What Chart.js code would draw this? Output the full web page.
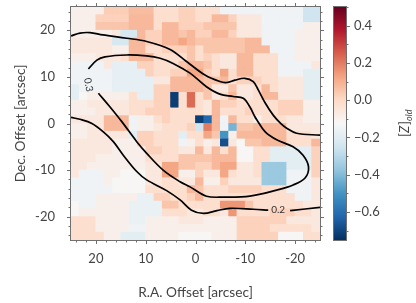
<!DOCTYPE html>
<html>
<head>
<meta charset="utf-8">
<script src="https://cdn.jsdelivr.net/npm/chart.js@4"></script>
<style>
  body { margin: 0; background: #fff; }
  canvas { position: absolute; left: 0; top: 0; }
</style>
</head>
<body>
<canvas id="myChart" width="416" height="303"></canvas>
<canvas id="myBar" width="416" height="303"></canvas>
<script>
// metallicity map, top row first, left column = +25 arcsec
const row00 = [-.09,-.09,-.09,-.09,.03,.03,.03,.07,.07,.07,-.02,-.02,-.02,.02,.02,-.02,-.02,-.02,-.15,-.15,-.15,-.15,-.15,-.15,-.15,-.15,-.15,-.15,-.25,-.25];
const row01 = [-.09,-.09,-.09,.02,.02,.02,.02,.08,.08,.08,-.02,-.02,-.02,.02,.02,-.02,-.02,.08,.08,.02,-.06,-.06,-.06,-.15,-.15,-.15,-.15,-.15,-.25,-.25];
const row02 = [-.09,-.09,-.09,.05,.05,.05,.05,.08,.08,.08,-.02,.08,.08,.02,.02,.02,.05,.05,.05,.05,-.06,-.06,-.06,-.15,-.15,-.15,-.15,-.15,-.09,-.09];
const row03 = [-.09,-.09,-.09,-.09,-.09,-.06,-.23,-.23,.08,.02,.02,.08,.08,.05,.08,.02,.02,.08,.08,.02,-.06,-.06,-.06,-.15,-.15,-.15,-.15,-.09,-.09,-.09];
const row04 = [-.06,-.06,-.06,-.06,-.06,-.23,-.23,.08,.08,.02,.02,.08,.08,.12,.08,.05,.05,.05,.05,.05,.05,.08,.08,-.15,-.15,-.15,-.15,-.09,-.09,-.09];
const row05 = [-.06,-.06,-.06,-.06,-.06,-.09,-.09,.08,.08,-.02,-.02,.02,.02,.02,.05,-.02,.05,.05,.05,.05,.05,.08,.08,.08,-.15,-.15,-.15,-.09,-.09,-.09];
const row06 = [-.09,-.09,-.09,-.06,-.06,-.06,-.02,.08,.08,.08,-.02,-.02,-.02,-.02,.05,-.02,.02,-.02,-.06,-.06,.08,.08,-.02,-.02,-.02,-.15,-.15,-.09,-.09,-.09];
const row07 = [-.15,-.15,-.15,-.15,-.06,-.18,-.18,-.18,.02,.02,-.02,-.02,-.02,.05,.08,.08,.05,-.02,-.06,-.06,.08,.08,-.02,-.02,-.02,-.15,-.15,-.15,-.15,-.06];
const row08 = [-.15,-.15,-.15,-.15,-.15,-.18,-.18,-.18,-.18,.02,-.02,-.02,.02,.02,.12,.12,.02,-.02,.12,-.02,.08,.08,-.02,-.02,-.02,-.15,-.15,-.15,-.19,-.19];
const row09 = [-.15,-.15,-.15,-.15,-.15,-.18,-.18,-.18,-.18,-.18,-.06,-.06,.08,.08,.08,.08,.05,.05,.08,-.02,.02,.02,.02,-.02,-.02,-.06,-.06,-.06,-.19,-.19];
const row10 = [-.19,-.15,-.15,-.15,-.15,-.18,-.18,-.18,-.18,-.18,.02,.02,.08,.08,.08,.08,.05,-.06,-.06,.05,-.06,-.06,-.02,.08,-.02,-.06,-.06,-.06,-.19,-.19];
const row11 = [-.19,-.12,-.09,-.09,-.09,-.09,-.09,-.02,-.18,-.18,.02,.02,-.72,-.02,.23,-.02,.05,-.06,-.02,.08,-.06,-.06,-.02,.08,.08,-.06,-.06,-.06,-.19,-.19];
const row12 = [-.09,-.09,-.06,-.06,-.06,-.06,-.06,-.02,-.02,-.02,.02,.02,-.72,-.02,.23,-.02,-.06,.08,.02,.02,-.02,-.02,-.02,-.02,-.02,.02,.02,.02,-.09,-.09];
const row13 = [-.09,-.09,-.09,-.06,-.06,-.06,-.06,-.02,-.02,.02,.02,.02,-.02,-.02,-.02,-.02,-.06,.08,-.02,-.02,-.02,.02,-.02,-.02,-.02,.02,.02,.02,-.09,-.09];
const row14 = [-.06,-.06,-.06,-.06,.08,.08,.08,-.15,-.09,-.09,-.02,.02,-.02,-.02,-.02,-.72,-.62,.08,-.15,.08,-.02,-.02,-.09,-.02,-.02,-.02,-.06,-.06,-.09,-.09];
const row15 = [-.09,-.09,-.06,-.06,.08,.08,.08,-.15,-.09,-.09,-.06,-.02,-.02,-.02,.02,-.25,.2,.08,-.15,-.42,.05,.05,.08,.08,.08,.08,-.06,-.06,-.06,-.06];
const row16 = [-.09,-.09,-.06,-.06,-.06,-.06,-.06,-.19,.02,.02,-.02,-.02,-.02,-.19,-.02,-.02,.12,.05,-.5,-.09,.08,.08,.08,.08,.08,.08,-.02,-.02,-.02,-.06];
const row17 = [-.06,-.06,-.06,-.06,-.06,-.09,-.09,-.09,.02,.02,-.02,-.02,-.02,-.15,-.09,-.02,-.09,-.06,-.68,-.06,-.125,.05,.05,.08,.08,.08,-.02,-.02,-.02,.08];
const row18 = [-.06,-.06,-.06,-.06,-.06,-.09,-.09,-.09,-.09,.02,.02,-.02,-.02,-.06,-.06,.08,-.06,.08,-.02,.08,-.12,-.12,-.02,-.02,-.19,-.19,-.19,-.19,-.19,.02];
const row19 = [-.06,-.06,-.06,-.09,-.09,-.09,-.09,-.09,-.09,-.02,-.02,-.02,-.02,.05,.05,.05,.05,.08,.08,.08,-.12,-.12,-.02,-.02,-.19,-.19,-.19,-.19,-.19,.02];
const row20 = [-.06,-.06,-.09,-.09,-.09,-.09,-.09,-.09,-.09,-.06,-.06,.12,.12,.05,.05,.02,.02,.08,.12,.12,-.06,-.06,-.02,-.36,-.36,-.36,-.19,-.19,-.19,.02];
const row21 = [-.06,-.15,-.15,-.15,-.09,-.09,-.12,-.12,-.12,-.06,-.06,.12,.12,-.09,-.09,.02,-.06,-.06,.12,-.02,-.06,-.06,-.02,-.36,-.36,-.36,-.15,-.15,-.15,.02];
const row22 = [-.15,-.15,-.15,-.15,-.09,-.12,-.12,-.12,-.12,-.06,-.06,-.02,-.02,-.06,-.06,.08,-.09,-.09,.02,-.06,-.06,-.06,-.06,-.36,-.36,-.36,-.15,-.15,-.15,-.06];
const row23 = [-.15,-.15,-.15,-.15,-.15,-.12,-.12,-.12,-.12,-.02,-.02,-.02,-.02,-.02,.08,.05,-.02,-.02,-.02,.02,.02,.02,.02,-.02,-.02,-.02,-.15,-.15,-.15,-.06];
const row24 = [-.15,-.15,-.15,-.09,-.09,-.09,-.09,-.09,-.17,-.17,.02,.02,-.02,-.02,.02,.08,-.02,-.02,-.02,-.02,-.02,-.02,-.02,-.02,-.02,-.02,-.02,-.15,-.15,-.06];
const row25 = [-.12,-.15,-.15,-.09,-.09,-.09,-.09,-.17,-.17,-.17,-.17,.05,.05,-.02,-.02,-.02,-.02,-.02,.15,.15,.15,.05,-.02,-.02,-.02,-.02,-.02,-.02,-.06,-.06];
const row26 = [-.12,-.09,-.09,-.09,-.09,-.09,-.09,-.17,-.17,-.17,-.17,-.02,-.02,-.02,-.06,-.06,-.02,-.02,-.06,.15,-.02,-.02,-.02,-.02,.02,.02,.02,-.02,-.02,-.06];
const row27 = [-.02,-.02,-.02,-.09,-.09,-.09,-.09,-.17,-.17,-.09,-.09,-.09,-.09,-.06,-.06,-.06,-.09,-.09,-.09,-.09,.02,.02,.02,.02,.02,.02,-.06,-.06,-.06,-.06];
const row28 = [-.02,-.02,-.02,-.09,-.09,-.09,-.09,-.15,-.15,-.09,-.09,-.09,-.09,-.09,-.09,-.09,-.09,-.09,-.09,-.09,.02,.02,.02,.02,-.02,-.02,-.02,-.02,-.02,-.06];
const row29 = [-.02,-.02,-.02,-.02,-.09,-.09,-.19,-.19,-.19,-.09,-.09,-.09,-.09,-.12,-.12,-.12,-.12,-.09,-.09,-.09,.02,.02,.02,.02,.02,-.12,-.12,-.12,-.02,-.02];
const mapRows = [row00,row01,row02,row03,row04,row05,row06,row07,row08,row09,row10,row11,row12,row13,row14,row15,row16,row17,row18,row19,row20,row21,row22,row23,row24,row25,row26,row27,row28,row29];

// contours, [ra offset, dec offset]
const contourTop = [[25,18.8],[23.2,19.4],[21.2,19.5],[18.6,19],[13.8,18.3],[9.8,17.6],[5.1,15.9],[1.8,13.3],[-1.9,10.4],[-4.9,9],[-6.3,8.8],[-7.9,9.3],[-9.9,9.7],[-11.6,9],[-12.6,7.2],[-14,4.4],[-15.6,1.8],[-17.2,-.1],[-18.3,-1],[-20.3,-2.1],[-25,-2.5]];
const contourLoop = [[21.5,11.7],[19.8,13.6],[18.2,14.3],[13.8,14.7],[9.8,14.5],[7.1,14],[4.5,12.9],[1.1,10.8],[-2.2,7.9],[-4.9,6.3],[-7.6,5.8],[-9.6,5.4],[-10.9,3.6],[-11.9,1.5],[-12.3,.8],[-14,-1.8],[-16.3,-3.5],[-19.6,-5],[-21.6,-6.8],[-22.7,-9.3],[-22,-11.7],[-19.6,-13.2],[-16.3,-14.3],[-10.9,-15.6],[-5.6,-15.8],[-2.2,-15.6],[1.1,-13.6],[3.1,-12.5],[6.5,-10],[9.8,-6.4],[11.8,-3.9],[14.8,.4],[17.2,3.6],[19.5,6.5]];
const contourLow = [[25,1.3],[23.2,.9],[20.8,0],[18.5,-1.8],[16.5,-3.9],[14.5,-6.8],[11.8,-10.3],[9.8,-12.1],[5.8,-14.4],[3.1,-16.4],[.8,-18.6],[-1.6,-19.3],[-4.3,-18.7],[-6.9,-18.2],[-11.6,-18.4],[-14.6,-18.6]];
const contourLowEnd = [[-19,-18.7],[-25,-18]];

const offsetTicks = [-24,-22,-20,-18,-16,-14,-12,-10,-8,-6,-4,-2,0,2,4,6,8,10,12,14,16,18,20,22,24];
const zRange = [-0.75, 0.5];
// RdBu_r, low to high
const rdbuStops = ['#053061','#2166ac','#4393c3','#92c5de','#d1e5f0','#f7f7f7','#fddbc7','#f4a582','#d6604d','#b2182b','#67001f'];

const textColor = '#444444';
const frameColor = '#707070';
const fontName = 'Lato, "Noto Sans", sans-serif';
Chart.defaults.font.family = fontName;
Chart.defaults.font.size = 13;
Chart.defaults.color = textColor;
Chart.defaults.devicePixelRatio = 1;

function hexToRgb(h) {
    return [parseInt(h.substr(1,2),16), parseInt(h.substr(3,2),16), parseInt(h.substr(5,2),16)];
}

function zColor(v) {
    let t = (v - zRange[0]) / (zRange[1] - zRange[0]) * (rdbuStops.length - 1);
    t = Math.max(0, Math.min(rdbuStops.length - 1.001, t));
    let i = Math.floor(t);
    let a = hexToRgb(rdbuStops[i]);
    let b = hexToRgb(rdbuStops[i + 1]);
    let f = t - i;
    return 'rgb(' + a.map((c, k) => Math.round(c + (b[k] - c) * f)).join(',') + ')';
}

function toPoints(list) {
    return list.map(p => ({ x: p[0], y: p[1] }));
}

// the map: one floating bar for each cell
let cells = [];
let cellColors = [];
let cellSize = 50 / 30;
for (let r = 0; r < mapRows.length; r++) {
    for (let c = 0; c < mapRows[r].length; c++) {
        let top = 25 - r * cellSize;
        cells.push({ x: 25 - (c + 0.5) * cellSize, y: [top - cellSize, top] });
        cellColors.push(zColor(mapRows[r][c]));
    }
}

function contourSet(list) {
    return {
        type: 'line',
        data: toPoints(list),
        borderColor: '#000000',
        borderWidth: 1.7,
        pointRadius: 0,
        tension: 0.35,
        order: 1
    };
}

function isWhole(v, step) {
    return Math.abs(v / step - Math.round(v / step)) < 1e-6;
}

const frameAndTicks = {
    id: 'frameAndTicks',
    afterDraw(chart) {
        let ctx = chart.ctx;
        let a = chart.chartArea;
        ctx.save();
        ctx.strokeStyle = frameColor;
        ctx.lineWidth = 1;
        ctx.beginPath();
        if (chart.scales.x.type === 'linear') {
            chart.scales.x.ticks.forEach(t => {
                let p = Math.round(chart.scales.x.getPixelForValue(t.value)) + 0.5;
                let len = isWhole(t.value, 10) ? 4 : 2.5;
                ctx.moveTo(p, a.bottom); ctx.lineTo(p, a.bottom + len);
                ctx.moveTo(p, a.top); ctx.lineTo(p, a.top - len);
            });
            chart.scales.y.ticks.forEach(t => {
                let p = Math.round(chart.scales.y.getPixelForValue(t.value)) + 0.5;
                let len = isWhole(t.value, 10) ? 4 : 2.5;
                ctx.moveTo(a.left, p); ctx.lineTo(a.left - len, p);
                ctx.moveTo(a.right, p); ctx.lineTo(a.right + len, p);
            });
        } else {
            chart.scales.y.ticks.forEach(t => {
                let p = Math.round(chart.scales.y.getPixelForValue(t.value)) + 0.5;
                let len = isWhole(t.value, 0.2) ? 4 : 2.5;
                ctx.moveTo(a.right, p); ctx.lineTo(a.right + len, p);
            });
        }
        ctx.stroke();
        ctx.strokeRect(Math.round(a.left) - 0.5, Math.round(a.top) - 0.5, Math.round(a.right - a.left) + 1, Math.round(a.bottom - a.top) + 1);
        ctx.restore();
    }
};

const contourLabels = {
    id: 'contourLabels',
    afterDraw(chart) {
        let ctx = chart.ctx;
        let sx = chart.scales.x;
        let sy = chart.scales.y;
        ctx.save();
        ctx.fillStyle = '#333333';
        ctx.font = '10px ' + fontName;
        ctx.textAlign = 'center';
        ctx.textBaseline = 'middle';
        ctx.fillText('0.2', sx.getPixelForValue(-16.6), sy.getPixelForValue(-18.6));
        ctx.translate(sx.getPixelForValue(21.5), sy.getPixelForValue(8.3));
        ctx.rotate(80 * Math.PI / 180);
        ctx.fillText('0.3', 0, 0);
        ctx.restore();
    }
};

const barTitle = {
    id: 'barTitle',
    afterDraw(chart) {
        let ctx = chart.ctx;
        ctx.save();
        ctx.translate(405, 137);
        ctx.rotate(-Math.PI / 2);
        ctx.fillStyle = textColor;
        ctx.textBaseline = 'alphabetic';
        ctx.font = '13px ' + fontName;
        ctx.fillText('[', 0, 4);
        ctx.font = 'italic 13px ' + fontName;
        ctx.fillText('Z', 4, 4);
        ctx.font = '13px ' + fontName;
        ctx.fillText(']', 12, 4);
        ctx.font = 'italic 9px ' + fontName;
        ctx.fillText('old', 16, 7);
        ctx.restore();
    }
};

function tenLabel(value) {
    return isWhole(value, 10) ? String(value) : '';
}

function offsetAxisTicks(scale) {
    scale.ticks = offsetTicks.map(v => ({ value: v }));
}

let mapChart = new Chart(document.getElementById('myChart'), {
    type: 'bar',
    data: {
        datasets: [
            {
                data: cells,
                backgroundColor: cellColors,
                borderWidth: 0,
                barPercentage: 1,
                categoryPercentage: 1,
                grouped: false,
                inflateAmount: 0.4,
                order: 2
            },
            contourSet(contourTop),
            contourSet(contourLoop),
            contourSet(contourLow),
            contourSet(contourLowEnd)
        ]
    },
    options: {
        responsive: false,
        animation: false,
        layout: { padding: { top: 7, right: 96 } },
        plugins: { legend: { display: false }, tooltip: { enabled: false } },
        scales: {
            x: {
                type: 'linear',
                reverse: true,
                offset: false,
                min: -25,
                max: 25,
                grid: { display: false },
                border: { display: false },
                afterBuildTicks: offsetAxisTicks,
                ticks: { autoSkip: false, maxRotation: 0, padding: 3, callback: tenLabel },
                title: { display: true, text: 'R.A. Offset [arcsec]', font: { size: 13.7 }, padding: { top: 0, bottom: 2 } },
                afterFit(scale) { scale.height = 63; scale.paddingLeft = 0; scale.paddingRight = 0; }
            },
            y: {
                type: 'linear',
                offset: false,
                min: -25,
                max: 25,
                grid: { display: false },
                border: { display: false },
                afterBuildTicks: offsetAxisTicks,
                ticks: { autoSkip: false, padding: 8, callback: tenLabel },
                title: { display: true, text: 'Dec. Offset [arcsec]', font: { size: 13.7 }, padding: { top: 12, bottom: 0 } },
                afterFit(scale) { scale.width = 71; scale.paddingTop = 0; scale.paddingBottom = 0; }
            }
        }
    },
    plugins: [frameAndTicks, contourLabels]
});

let colorBar = new Chart(document.getElementById('myBar'), {
    type: 'bar',
    data: {
        labels: [''],
        datasets: [{
            data: [zRange],
            barPercentage: 1,
            categoryPercentage: 1,
            borderWidth: 0,
            backgroundColor(context) {
                let a = context.chart.chartArea;
                if (!a) return '#f7f7f7';
                let g = context.chart.ctx.createLinearGradient(0, a.bottom, 0, a.top);
                rdbuStops.forEach((c, i) => g.addColorStop(i / (rdbuStops.length - 1), c));
                return g;
            }
        }]
    },
    options: {
        responsive: false,
        animation: false,
        layout: { padding: { left: 334, top: 7, bottom: 63 } },
        plugins: { legend: { display: false }, tooltip: { enabled: false } },
        scales: {
            x: { display: false },
            y: {
                position: 'right',
                min: zRange[0],
                max: zRange[1],
                grid: { display: false },
                border: { display: false },
                ticks: {
                    stepSize: 0.1,
                    includeBounds: false,
                    autoSkip: false,
                    padding: 0,
                    callback(value) {
                        if (!isWhole(value, 0.2)) return '';
                        return value < -0.01 ? '\u2212' + Math.abs(value).toFixed(1) : Math.abs(value).toFixed(1);
                    }
                },
                afterFit(scale) { scale.width = 70; scale.paddingTop = 0; scale.paddingBottom = 0; }
            }
        }
    },
    plugins: [frameAndTicks, barTitle]
});
</script>
</body>
</html>
